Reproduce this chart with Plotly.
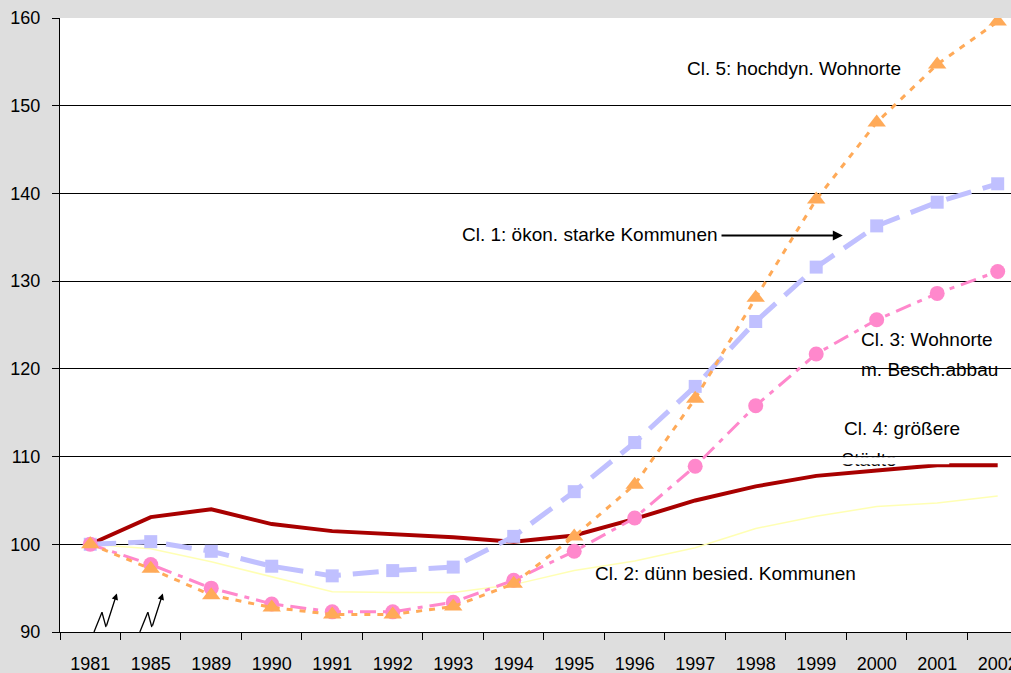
import plotly.graph_objects as go

# Index values (1981 = 100) by commune cluster
years = ["1981", "1985", "1989", "1990", "1991", "1992", "1993", "1994",
         "1995", "1996", "1997", "1998", "1999", "2000", "2001", "2002"]

cl1_oekon_stark = [100, 100.3, 99.2, 97.5, 96.4, 97.0, 97.4, 100.9,
                   106.0, 111.6, 118.0, 125.4, 131.6, 136.3, 139.0, 141.1]
cl2_duenn_besiedelt = [100, 99.5, 98.0, 96.3, 94.6, 94.5, 94.5, 95.4,
                       97.0, 98.1, 99.6, 101.8, 103.2, 104.3, 104.7, 105.5]
cl3_besch_abbau = [100, 97.7, 95.0, 93.2, 92.3, 92.3, 93.4, 95.9,
                   99.2, 103.0, 108.9, 115.8, 121.7, 125.6, 128.6, 131.1]
cl4_staedte = [100, 103.1, 104.0, 102.3, 101.5, 101.2, 100.8, 100.3,
               101.0, 102.9, 105.0, 106.6, 107.8, 108.4, 109.0, 109.0]
cl5_hochdyn = [100, 97.2, 94.2, 92.8, 92.0, 92.0, 92.9, 95.5,
               100.9, 106.8, 116.6, 128.1, 139.3, 148.1, 154.7, 159.6]

FONT = "Liberation Sans, Arial, sans-serif"

# Years are evenly spaced categories: position i for the i-th year
pos = list(range(len(years)))
boundaries = [i - 0.5 for i in range(len(years) + 1)]

fig = go.Figure()

fig.add_trace(go.Scatter(
    x=pos, y=cl4_staedte, mode="lines",
    line=dict(color="#a80000", width=4),
    hoverinfo="skip"))

fig.add_trace(go.Scatter(
    x=pos, y=cl2_duenn_besiedelt, mode="lines",
    line=dict(color="#ffffb4", width=1.5),
    hoverinfo="skip"))

fig.add_trace(go.Scatter(
    x=pos, y=cl1_oekon_stark, mode="lines+markers",
    line=dict(color="#c0c0ff", width=5, dash="26px,12px"),
    marker=dict(symbol="square", size=13, color="#c0c0ff"),
    hoverinfo="skip"))

fig.add_trace(go.Scatter(
    x=pos, y=cl3_besch_abbau, mode="lines+markers",
    line=dict(color="#ff88cc", width=3, dash="16px,7px,5px,7px"),
    marker=dict(symbol="circle", size=15, color="#ff88cc"),
    hoverinfo="skip"))

fig.add_trace(go.Scatter(
    x=pos, y=cl5_hochdyn, mode="lines+markers",
    line=dict(color="#ffaa58", width=3, dash="6px,7px"),
    marker=dict(symbol="triangle-up", size=16, color="#ffaa58"),
    hoverinfo="skip"))

# Second line of the Cl. 4 label, partly hidden behind its text box edge
fig.add_trace(go.Scatter(
    x=[12.42], y=[109.5], mode="text", text=["Städte"],
    textposition="middle right",
    textfont=dict(family=FONT, size=19, color="black"),
    hoverinfo="skip"))

shapes = [
    dict(type="rect", xref="x", yref="y", x0=12.3, x1=14.2, y0=109.12, y1=109.93,
         fillcolor="white", line=dict(width=0), layer="above"),
]

# Axis-break zigzags near the start of the time axis
def zigzag(x0):
    pts = [(x0, 90.0), (x0 + 0.132, 92.25), (x0 + 0.198, 90.55)]
    return [dict(type="line", xref="x", yref="y",
                 x0=a[0], y0=a[1], x1=b[0], y1=b[1],
                 line=dict(color="black", width=1.3), layer="above")
            for a, b in zip(pts[:-1], pts[1:])]

shapes += zigzag(0.062) + zigzag(0.82)

annotations = [
    dict(x=0.44, y=94.4, ax=0.26, ay=90.55, xref="x", yref="y", axref="x", ayref="y",
         showarrow=True, arrowhead=2, arrowsize=1, arrowwidth=1.3, arrowcolor="black", text=""),
    dict(x=1.20, y=94.4, ax=1.02, ay=90.55, xref="x", yref="y", axref="x", ayref="y",
         showarrow=True, arrowhead=2, arrowsize=1, arrowwidth=1.3, arrowcolor="black", text=""),
    dict(x=12.44, y=135.2, ax=10.41, ay=135.2, xref="x", yref="y", axref="x", ayref="y",
         showarrow=True, arrowhead=2, arrowsize=1, arrowwidth=2, arrowcolor="black", text=""),
]

labels = [
    ("Cl. 5: hochdyn. Wohnorte", 9.83, 154.2),
    ("Cl. 1: ökon. starke Kommunen", 6.11, 135.3),
    ("Cl. 3: Wohnorte", 12.71, 123.3),
    ("m. Besch.abbau", 12.71, 119.9),
    ("Cl. 4: größere", 12.42, 113.15),
    ("Cl. 2: dünn besied. Kommunen", 8.31, 96.7),
]
for text, x, y in labels:
    annotations.append(dict(
        x=x, y=y, xref="x", yref="y", text=text, showarrow=False,
        xanchor="left", yanchor="middle",
        font=dict(family=FONT, size=19, color="black")))

fig.update_layout(
    width=1011, height=673,
    margin=dict(l=60, r=0, t=18, b=41),
    paper_bgcolor="#dedede",
    plot_bgcolor="white",
    showlegend=False,
    shapes=shapes,
    annotations=annotations,
    font=dict(family=FONT, size=18, color="black"),
)

fig.update_xaxes(
    range=[-0.5, 15.22], automargin=False,
    tickmode="array", tickvals=pos, ticktext=years,
    ticks="", ticklabelstandoff=15, ticklabeloverflow="allow",
    minor=dict(tickmode="array", tickvals=boundaries, ticks="outside",
               ticklen=7, tickcolor="black", showgrid=False),
    showgrid=False, zeroline=False,
    showline=True, linecolor="black", linewidth=1,
    tickfont=dict(family=FONT, size=18, color="black"),
)

fig.update_yaxes(
    range=[90, 160], dtick=10, tick0=90, automargin=False,
    showgrid=True, gridcolor="black", gridwidth=1, zeroline=False,
    showline=True, linecolor="black", linewidth=1,
    ticks="outside", ticklen=7, tickcolor="black",
    ticklabelstandoff=8,
    tickfont=dict(family=FONT, size=18, color="black"),
)

fig.write_html("out.html")
